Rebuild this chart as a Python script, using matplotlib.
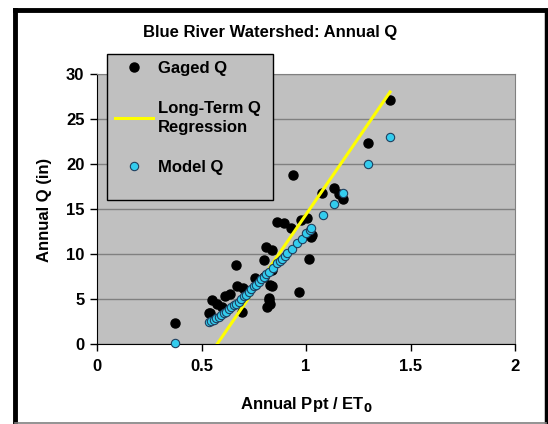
import matplotlib
matplotlib.use('Agg')
import matplotlib.pyplot as plt
from matplotlib.lines import Line2D
from matplotlib.patches import Rectangle

plt.rcParams['font.family'] = ['Liberation Sans', 'DejaVu Sans']
plt.rcParams['font.weight'] = 'bold'

# Gaged Q (observed)
gaged_x = [0.371, 0.534, 0.542, 0.550, 0.574, 0.598, 0.614, 0.638, 0.667, 0.670,
           0.694, 0.700, 0.758, 0.798, 0.798, 0.810, 0.814, 0.822, 0.822, 0.830,
           0.830, 0.838, 0.838, 0.838, 0.862, 0.894, 0.926, 0.938, 0.966, 0.974,
           1.006, 1.014, 1.022, 1.030, 1.077, 1.133, 1.157, 1.178, 1.296, 1.402]
gaged_y = [2.3, 3.4, 3.5, 4.9, 4.5, 4.1, 5.3, 5.6, 8.8, 6.4,
           3.6, 6.2, 7.3, 9.3, 7.5, 10.8, 4.1, 5.1, 4.9, 6.6,
           4.5, 10.4, 8.2, 6.4, 13.6, 13.4, 12.9, 18.8, 5.8, 13.8,
           14.0, 9.4, 11.9, 12.1, 16.8, 17.3, 16.7, 16.1, 22.3, 27.1]

# Long-term regression line endpoints
reg_x = [0.575, 1.402]
reg_y = [0.0, 28.0]

# Model Q
model_x = [0.371, 0.534, 0.546, 0.558, 0.570, 0.582, 0.594, 0.606, 0.618, 0.630,
           0.642, 0.654, 0.666, 0.678, 0.690, 0.702, 0.714, 0.726, 0.738, 0.750,
           0.762, 0.774, 0.786, 0.798, 0.810, 0.822, 0.842, 0.862, 0.874, 0.886,
           0.898, 0.910, 0.934, 0.958, 0.982, 1.002, 1.018, 1.022, 1.082, 1.134,
           1.176, 1.296, 1.402]
model_y = [0.1, 2.4, 2.6, 2.7, 2.9, 3.0, 3.2, 3.4, 3.6, 3.9,
           4.1, 4.3, 4.5, 4.7, 5.0, 5.3, 5.5, 5.8, 6.1, 6.4,
           6.6, 6.9, 7.2, 7.5, 7.8, 8.0, 8.5, 9.0, 9.2, 9.5,
           9.8, 10.1, 10.6, 11.2, 11.7, 12.3, 12.7, 12.9, 14.3, 15.6,
           16.8, 20.0, 23.0]

x_ticks = [0, 0.5, 1, 1.5, 2]
x_tick_labels = ['0', '0.5', '1', '1.5', '2']
y_ticks = [0, 5, 10, 15, 20, 25, 30]

fs = 12
fig = plt.figure(figsize=(5.48, 4.24), dpi=100)
W, H = 548.0, 424.0

# outer chart frame
fig.add_artist(Line2D([15 / W, 15 / W], [1 - 423 / H, 1 - 10 / H], color='black', lw=3.5))
fig.add_artist(Line2D([15 / W, 546 / W], [1 - 10 / H, 1 - 10 / H], color='black', lw=3.5))
fig.add_artist(Line2D([546 / W, 546 / W], [1 - 423 / H, 1 - 10 / H], color='black', lw=2.5))
fig.add_artist(Line2D([15 / W, 546 / W], [1 - 422.5 / H, 1 - 422.5 / H], color='#808080', lw=1.2))

ax = fig.add_axes([97 / W, 1 - 344 / H, (515 - 97) / W, (344 - 74) / H])
ax.set_facecolor('#C0C0C0')
ax.set_xlim(0, 2)
ax.set_ylim(0, 30)
ax.set_yticks(y_ticks)
ax.set_xticks(x_ticks)
ax.set_xticklabels(x_tick_labels)
ax.yaxis.grid(True, color='#808080', lw=1)
ax.set_axisbelow(True)
for s in ['top', 'right']:
    ax.spines[s].set_color('#808080')
for s in ['left', 'bottom']:
    ax.spines[s].set_color('black')
ax.tick_params(direction='out', length=5, width=1, labelsize=fs, pad=4)
ax.tick_params(axis='x', pad=6)
for lab in ax.get_xticklabels() + ax.get_yticklabels():
    lab.set_fontweight('bold')

g = ax.plot(gaged_x, gaged_y, 'o', color='black', markersize=6.5, ls='none',
            label='Gaged Q', clip_on=False, zorder=3)[0]
r = ax.plot(reg_x, reg_y, color='#FFFF00', lw=2.2, label='Long-Term Q\nRegression', zorder=4)[0]
m = ax.plot(model_x, model_y, 'o', color='#33CCEE', markeredgecolor='#1F3F5F',
            markeredgewidth=0.8, markersize=6, ls='none', label='Model Q',
            clip_on=False, zorder=5)[0]

# legend box drawn separately (Excel leaves extra room at the bottom)
box = Rectangle((107 / W, 1 - 200 / H), (273 - 107) / W, (200 - 54) / H,
                transform=fig.transFigure, facecolor='#C0C0C0', edgecolor='black',
                lw=1, zorder=10)
fig.add_artist(box)
leg = fig.legend(handles=[g, r, m], loc='upper left',
                 bbox_to_anchor=(110 / W, 1 - 56 / H), frameon=False,
                 fontsize=fs, labelspacing=1.48,
                 handlelength=2.3, handletextpad=0.3, borderpad=0.3,
                 borderaxespad=0)
leg.set_zorder(11)
for t in leg.get_texts():
    t.set_fontweight('bold')
    t.set_linespacing(1.35)

fig.text(270 / W, 1 - 32 / H, 'Blue River Watershed: Annual Q', ha='center',
         va='center', fontsize=fs, fontweight='bold')
fig.text(306 / W, 1 - 405 / H, 'Annual Ppt / ET$_\\mathbf{0}$', ha='center',
         va='center', fontsize=fs, fontweight='bold')
fig.text(45 / W, 1 - 210 / H, 'Annual Q (in)', ha='center', va='center',
         rotation=90, fontsize=fs, fontweight='bold')

fig.savefig('out.png', dpi=100)
